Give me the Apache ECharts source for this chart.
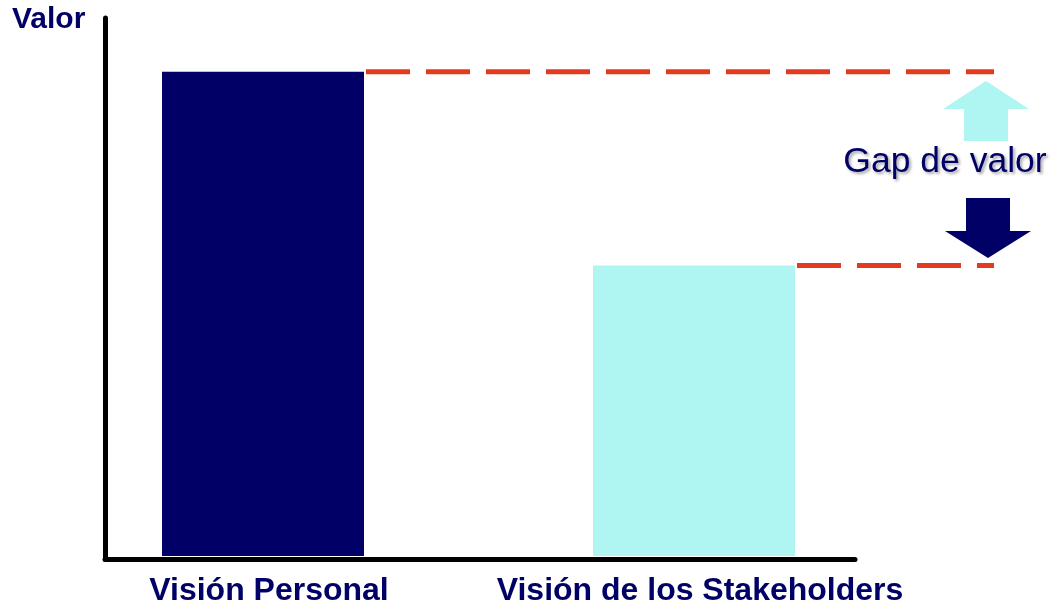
<!DOCTYPE html>
<html><head><meta charset="utf-8">
<script src="https://cdn.jsdelivr.net/npm/echarts@6/dist/echarts.min.js"></script>
<style>html,body{margin:0;padding:0;background:#fff}#c{width:1055px;height:607px}</style>
</head><body><div id="c"></div>
<script>
// ---- data ----
const categories = ['Visión Personal', 'Visión de los Stakeholders'];
const values = [90, 54];
const axisName = 'Valor';
const gapLabel = 'Gap de valor';

// ---- styles ----
const NAVY = '#000066';
const CYAN = '#AFF5F2';
const RED = '#E43A1F';
const FONT = '"Liberation Sans", Arial, sans-serif';
const barColors = [NAVY, CYAN];
const BAR_W = 202;

const chart = echarts.init(document.getElementById('c'), null, {renderer: 'canvas'});
const option = {
  animation: false,
  backgroundColor: '#ffffff',
  title: {
    text: axisName, left: 12, top: 5, padding: 0,
    textStyle: {fontSize: 30, fontWeight: 'bold', color: NAVY, fontFamily: FONT}
  },
  grid: [
    {left: 47.5, right: 145.5, top: 18, bottom: 48},
    {left: 105, right: 200, top: 18, bottom: 48}
  ],
  xAxis: [
    {
      type: 'category', gridIndex: 0, data: categories,
      axisLine: {show: false}, axisTick: {show: false},
      axisLabel: {
        margin: 19, fontSize: 32, fontWeight: 'bold', color: NAVY, fontFamily: FONT,
        padding: [0, 0, 0, 12], interval: 0
      }
    },
    {
      type: 'value', gridIndex: 1, min: 0, max: 1,
      axisLine: {show: true, lineStyle: {color: '#000', width: 5, cap: 'round'}},
      axisTick: {show: false}, axisLabel: {show: false}, splitLine: {show: false}
    }
  ],
  yAxis: [
    {type: 'value', gridIndex: 0, min: 0, max: 100, show: false, splitLine: {show: false}},
    {
      type: 'value', gridIndex: 1, min: 0, max: 100,
      axisLine: {show: true, lineStyle: {color: '#000', width: 5, cap: 'round'}},
      axisTick: {show: false}, axisLabel: {show: false}, splitLine: {show: false}
    }
  ],
  series: [{
    type: 'bar', xAxisIndex: 0, yAxisIndex: 0, barWidth: BAR_W, z: 1,
    data: values.map((v, i) => ({value: v, itemStyle: {color: barColors[i]}}))
  }]
};
chart.setOption(option);

// dashed reference lines at each bar's value, built from the axes' scales
const LINE_END_X = 994;
const graphics = values.map((v, i) => {
  const p = chart.convertToPixel({xAxisIndex: 0, yAxisIndex: 0}, [i, v]);
  const x1 = p[0] + BAR_W / 2 + 2;
  return {
    type: 'line', z: 10,
    shape: {x1: x1, y1: p[1], x2: LINE_END_X, y2: p[1]},
    style: {stroke: RED, lineWidth: 5, lineDash: [44, 16]}
  };
});
// annotation arrows
graphics.push({
  type: 'polygon', z: 10,
  shape: {points: [[986, 81], [1029, 109], [1008, 109], [1008, 141], [964, 141], [964, 109], [943, 109]]},
  style: {fill: CYAN}
});
graphics.push({
  type: 'polygon', z: 10,
  shape: {points: [[966, 198], [1010, 198], [1010, 231], [1031, 231], [988, 258], [945, 231], [966, 231]]},
  style: {fill: NAVY}
});
graphics.push({
  type: 'text', z: 10,
  style: {
    text: gapLabel, x: 945, y: 162, align: 'center', verticalAlign: 'middle',
    fill: NAVY, fontSize: 35.5, fontFamily: FONT,
    textShadowColor: 'rgba(0,0,0,0.35)', textShadowBlur: 3, textShadowOffsetX: 2, textShadowOffsetY: 2
  }
});
chart.setOption({graphic: graphics});
</script>
</body></html>
